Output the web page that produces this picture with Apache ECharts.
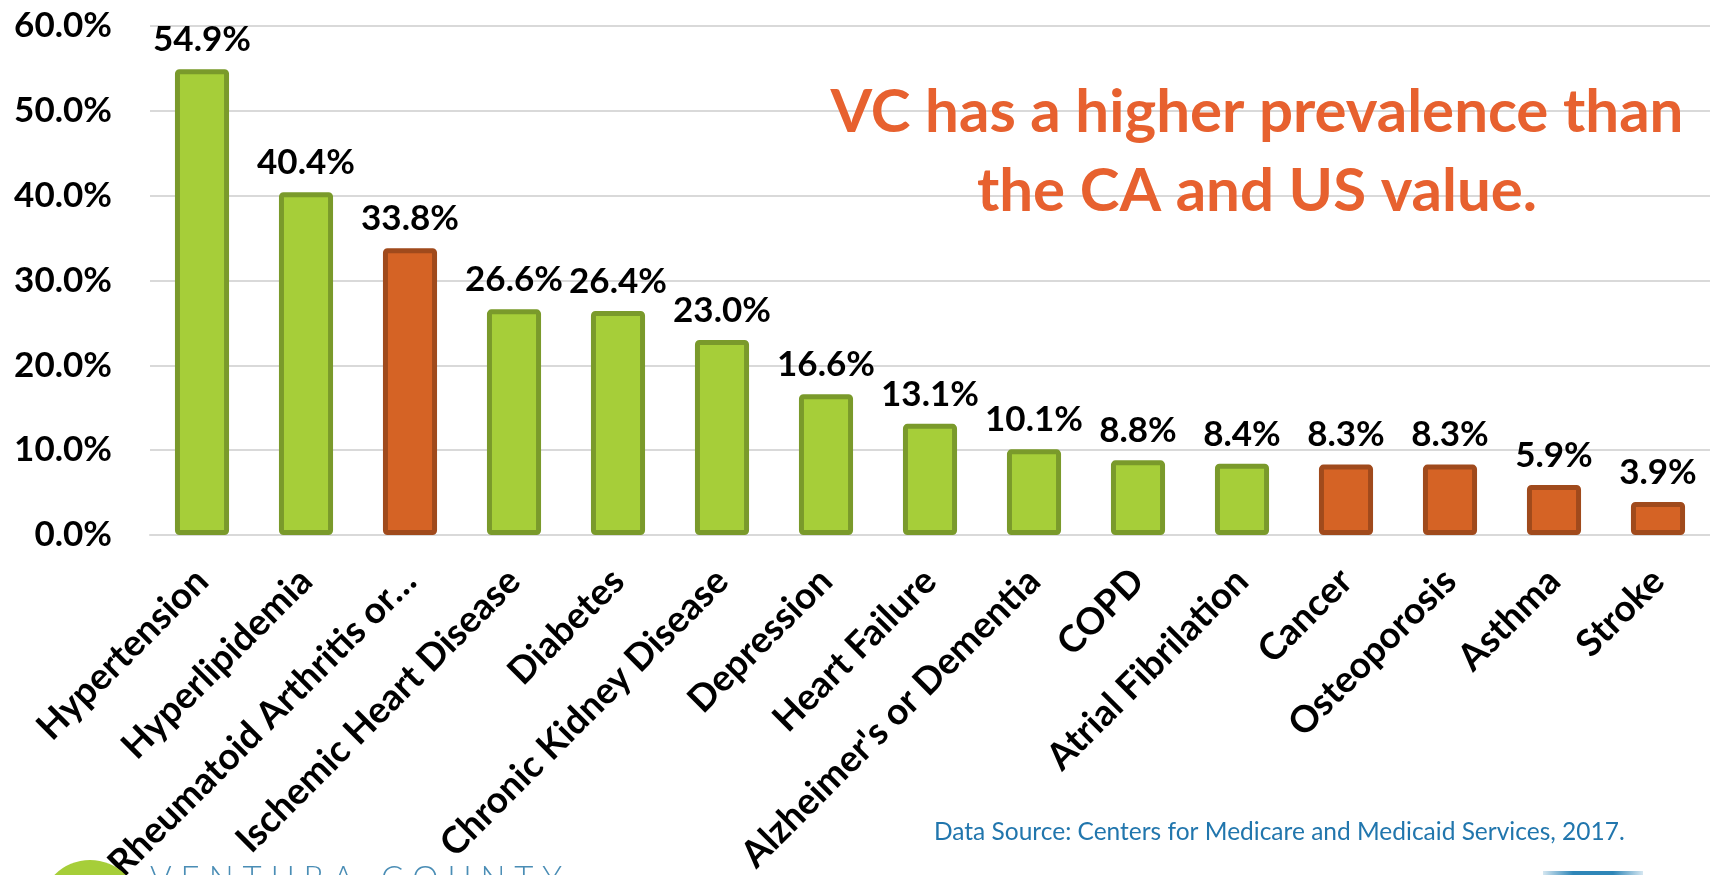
<!DOCTYPE html>
<html>
<head>
<meta charset="utf-8">
<script src="https://cdn.jsdelivr.net/npm/echarts@6/dist/echarts.min.js"></script>
<style>
html,body{margin:0;padding:0;background:#fff;}
#chart{width:1710px;height:875px;}
</style>
</head>
<body>
<div id="chart"></div>
<script>
const categories = ["Hypertension","Hyperlipidemia","Rheumatoid Arthritis or…","Ischemic Heart Disease","Diabetes","Chronic Kidney Disease","Depression","Heart Failure","Alzheimer's or Dementia","COPD","Atrial Fibrilation","Cancer","Osteoporosis","Asthma","Stroke"];
const prevalence = [54.9,40.4,33.8,26.6,26.4,23.0,16.6,13.1,10.1,8.8,8.4,8.3,8.3,5.9,3.9];
const higherThanCAandUS = [false,false,true,false,false,false,false,false,false,false,false,true,true,true,true];
const yTicks = [0,10,20,30,40,50,60];
const titleText = "VC has a higher prevalence than\nthe CA and US value.";
const sourceText = "Data Source: Centers for Medicare and Medicaid Services, 2017.";

const GREEN = {color:'#a6ce39', borderColor:'#7a9a2b'};
const ORANGE = {color:'#d56325', borderColor:'#a04a1c'};

const chart = echarts.init(document.getElementById('chart'));
chart.setOption({
  animation:false,
  backgroundColor:'#ffffff',
  textStyle:{fontFamily:'Lato'},
  title:[
    {text:titleText, left:1252, top:68, textAlign:'center',
     textStyle:{fontFamily:'Lato', fontWeight:'bold', fontSize:60, lineHeight:79, color:'#e7612f', align:'center'}},
    {text:sourceText, left:929, top:815,
     textStyle:{fontFamily:'Lato', fontWeight:'normal', fontSize:24.5, color:'#2176ad'}}
  ],
  grid:{left:150, right:0, top:26, bottom:340, containLabel:false, outerBoundsMode:'none'},
  xAxis:{
    type:'category', data:categories,
    axisLine:{show:true, lineStyle:{color:'#d9d9d9', width:2}},
    axisTick:{show:false},
    axisLabel:{interval:0, rotate:45, margin:40, color:'#000', fontFamily:'Lato', fontWeight:'bold', fontSize:37}
  },
  yAxis:{
    type:'value', min:yTicks[0], max:yTicks[yTicks.length-1], interval:10,
    axisLine:{show:false}, axisTick:{show:false},
    splitLine:{lineStyle:{color:'#d9d9d9', width:2}},
    axisLabel:{margin:38, color:'#000', fontFamily:'Lato', fontWeight:'bold', fontSize:35,
      formatter:v=>v.toFixed(1)+'%'}
  },
  series:[{
    type:'bar',
    barWidth:'52%',
    data:prevalence.map((v,i)=>({value:v, itemStyle:Object.assign({borderWidth:5, borderRadius:2}, higherThanCAandUS[i]?ORANGE:GREEN)})),
    label:{show:true, position:'top', distance:12, color:'#000', fontFamily:'Lato', fontWeight:'bold', fontSize:35,
      formatter:p=>p.value.toFixed(1)+'%'}
  }],
  graphic:[
    {type:'circle', shape:{cx:90, cy:910, r:50}, style:{fill:'#a6ce39'}, z:10},
    {type:'text', left:150, top:863, style:{text:'V E N T U R A   C O U N T Y', fontFamily:'Lato', fontWeight:300, fontSize:33, fill:'#4a8db5'}, z:10},
    {type:'rect', shape:{x:1543, y:871, width:100, height:4}, style:{fill:new echarts.graphic.LinearGradient(0,0,1,0,[{offset:0,color:'rgba(46,134,184,0.2)'},{offset:0.3,color:'#2e86b8'},{offset:0.7,color:'#2e86b8'},{offset:1,color:'rgba(46,134,184,0.2)'}])}, z:10}
  ]
});
</script>
</body>
</html>
